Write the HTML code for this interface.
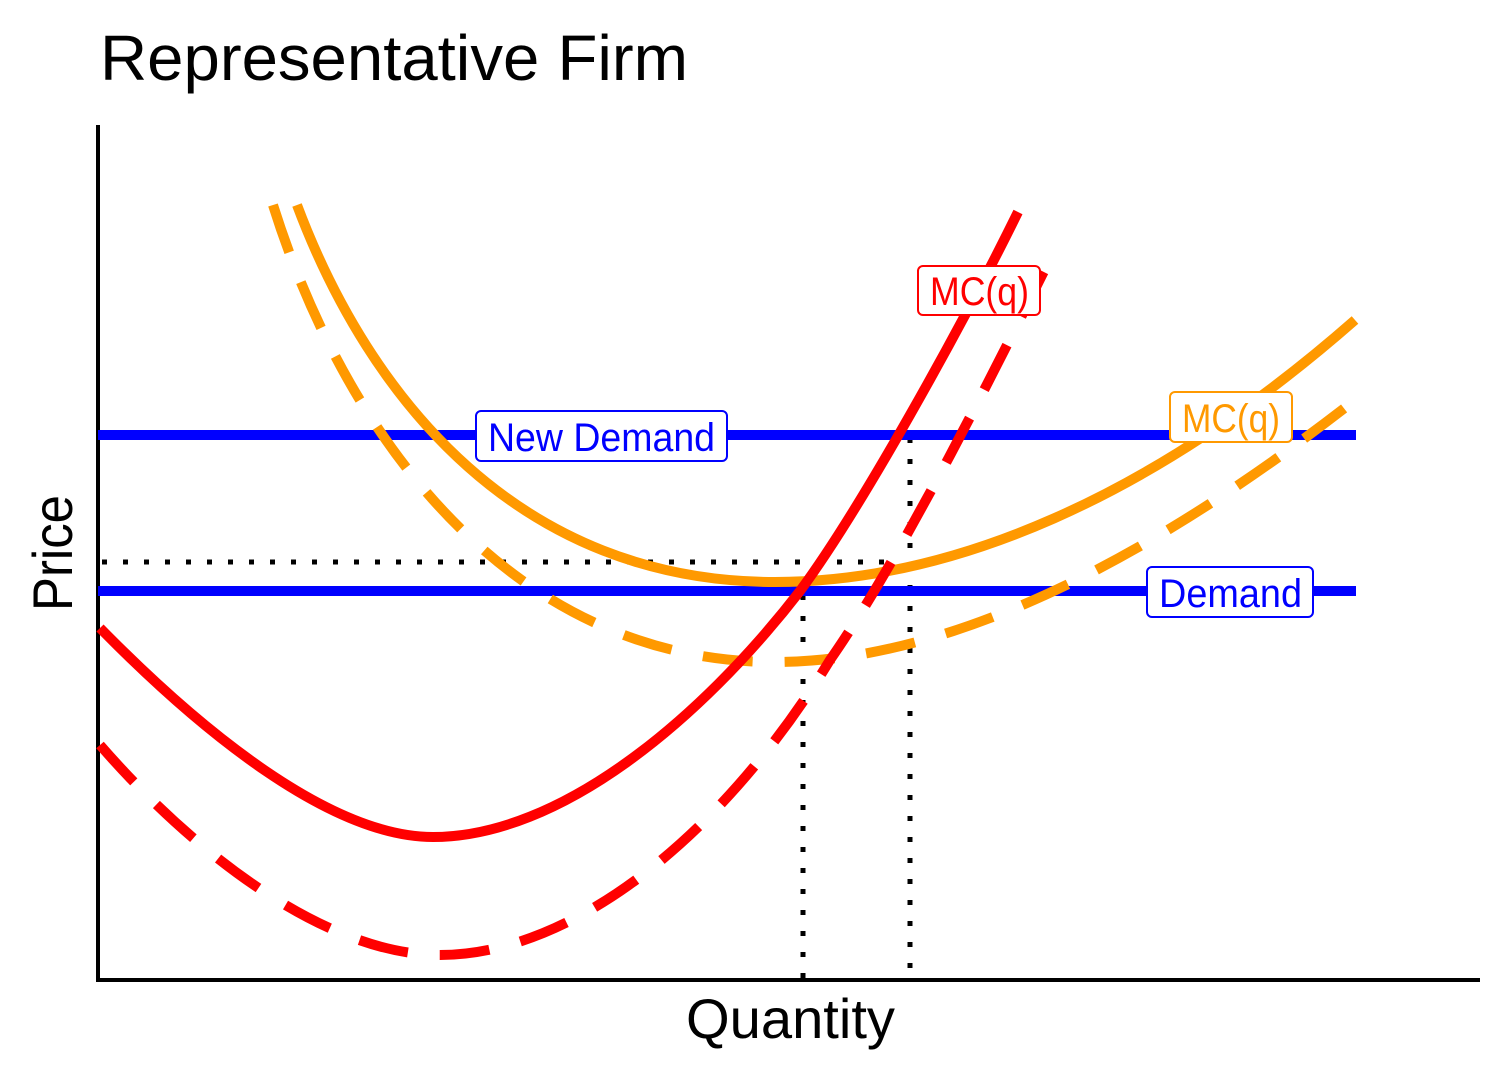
<!DOCTYPE html>
<html><head><meta charset="utf-8"><style>
html,body{margin:0;padding:0;background:#fff;}
svg{display:block;}
text{font-family:"Liberation Sans Narrow","Liberation Sans",sans-serif;}
</style></head><body>
<svg width="1512" height="1080" viewBox="0 0 1512 1080" xmlns="http://www.w3.org/2000/svg">
<rect width="1512" height="1080" fill="#fff"/>
<text x="100" y="80" font-size="64" fill="#000" textLength="588" lengthAdjust="spacingAndGlyphs">Representative Firm</text>
<text x="686" y="1038" font-size="56" fill="#000" textLength="209" lengthAdjust="spacingAndGlyphs">Quantity</text>
<text transform="translate(72,611) rotate(-90)" font-size="56" fill="#000" textLength="116" lengthAdjust="spacingAndGlyphs">Price</text>
<!-- axes -->
<line x1="98" y1="125" x2="98" y2="982" stroke="#000" stroke-width="4"/>
<line x1="96" y1="980" x2="1480" y2="980" stroke="#000" stroke-width="4"/>
<!-- dotted -->
<g stroke="#000" stroke-width="5" stroke-dasharray="5,16" fill="none">
<line x1="102" y1="562" x2="885" y2="562"/>
<line x1="803" y1="595" x2="803" y2="980"/>
<line x1="910" y1="438" x2="910" y2="980"/>
</g>
<!-- demand lines -->
<line x1="98" y1="435" x2="1356" y2="435" stroke="#0000ff" stroke-width="10"/>
<line x1="98" y1="591" x2="1356" y2="591" stroke="#0000ff" stroke-width="10"/>
<!-- orange -->
<path d="M297,205 C370,400 520,582 775,582 C950,582 1150,500 1355,320" fill="none" stroke="#ff9900" stroke-width="10"/>
<path d="M273,205 C350,450 520,662 775,662 C950,662 1150,560 1355,400" fill="none" stroke="#ff9900" stroke-width="10" stroke-dasharray="50,32"/>
<!-- red -->
<path d="M100,628 C200,730 330,837 433,837 C560,837 700,720 800,591 C860,510 960,330 1018,212" fill="none" stroke="#ff0000" stroke-width="10"/>
<path d="M100,745 C200,860 330,955 440,955 C570,955 720,840 830,660 C900,560 995,370 1052,255" fill="none" stroke="#ff0000" stroke-width="10" stroke-dasharray="50,32"/>
<!-- labels -->
<rect x="476" y="411" width="251" height="50" rx="5" fill="#fff" stroke="#0000ff" stroke-width="2"/>
<text x="488" y="451" font-size="40" fill="#0000ff" textLength="227" lengthAdjust="spacingAndGlyphs">New Demand</text>
<rect x="1147" y="567" width="166" height="50" rx="5" fill="#fff" stroke="#0000ff" stroke-width="2"/>
<text x="1159" y="607" font-size="40" fill="#0000ff" textLength="143" lengthAdjust="spacingAndGlyphs">Demand</text>
<rect x="918" y="266" width="122" height="49" rx="5" fill="#fff" stroke="#ff0000" stroke-width="2"/>
<text x="930" y="305" font-size="40" fill="#ff0000" textLength="99" lengthAdjust="spacingAndGlyphs">MC(q)</text>
<rect x="1170" y="392" width="122" height="50" rx="5" fill="#fff" stroke="#ff9900" stroke-width="2"/>
<text x="1182" y="432" font-size="40" fill="#ff9900" textLength="98" lengthAdjust="spacingAndGlyphs">MC(q)</text>
</svg>
</body></html>
